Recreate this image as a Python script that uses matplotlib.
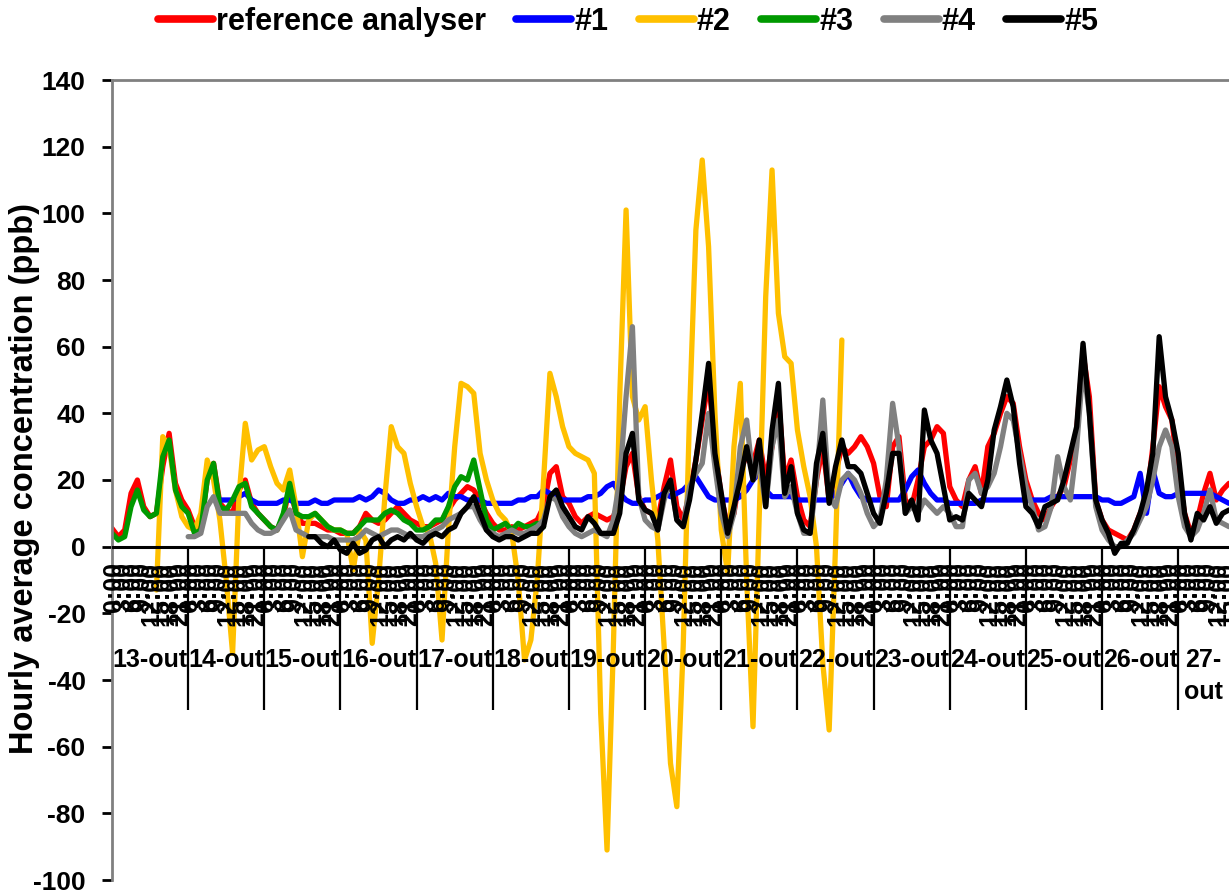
import numpy as np
import matplotlib
matplotlib.use("Agg")
import matplotlib.pyplot as plt

plt.rcParams['font.family'] = ['Liberation Sans', 'DejaVu Sans']
plt.rcParams['font.weight'] = 'bold'
plt.rcParams['axes.unicode_minus'] = False

nan = np.nan

# readings every 2 hours, starting 13-out 0:00
hours = np.arange(0, 353, 2)

day_labels = ['13-out', '14-out', '15-out', '16-out', '17-out', '18-out', '19-out',
              '20-out', '21-out', '22-out', '23-out', '24-out', '25-out', '26-out', '27-\nout']
hour_labels = ['0:00', '3:00', '6:00', '9:00', '12:00', '15:00', '18:00', '21:00']

reference = [
    5.5, 3, 5, 16, 20, 12, 9, 10, 24, 34, 19, 14,      # 13
    11, 6, 6, 20, 25, 13, 11, 10, 17, 20, 13, 10,      # 14
    8, 6, 5, 9, 18, 10, 7, 7, 7, 6, 5, 5,              # 15
    4, 4, 4, 6, 10, 8, 7, 8, 10, 12, 10, 8,            # 16
    7, 6, 6, 7, 8, 11, 14, 16, 18, 17, 14, 10,         # 17
    7, 5, 5, 6, 5, 6, 7, 8, 12, 22, 24, 15,            # 18
    13, 9, 7, 9, 10, 9, 8, 9, 14, 24, 28, 15,          # 19
    11, 10, 8, 18, 26, 12, 8, 16, 26, 38, 50, 30,      # 20
    15, 6, 10, 22, 28, 25, 32, 20, 30, 45, 20, 26,     # 21
    15, 8, 6, 20, 30, 14, 22, 30, 28, 30, 33, 30,      # 22
    25, 15, 12, 30, 33, 14, 12, 20, 30, 32, 36, 34,    # 23
    18, 14, 12, 20, 24, 16, 30, 34, 40, 45, 43, 30,    # 24
    20, 14, 10, 8, 12, 15, 18, 26, 35, 58, 45, 14,     # 25
    8, 5, 4, 3, 2, 5, 10, 14, 30, 48, 42, 38,          # 26
    22, 10, 4, 8, 16, 22, 14, 17, 19,                  # 27
]

sensor1 = [
    nan, nan, nan, nan, nan, nan, nan, nan, nan, nan, nan, nan,
    nan, nan, nan, nan, 14.5, 14, 14, 14, 15, 16, 14, 13,
    13, 13, 13, 14, 14, 13, 13, 13, 14, 13, 13, 14,
    14, 14, 14, 15, 14, 15, 17, 16, 14, 13, 13, 14,
    14, 15, 14, 15, 14, 16, 15, 15, 14, 14, 14, 13,
    13, 13, 13, 13, 14, 14, 15, 15, 17, 16, 15, 14,
    14, 14, 14, 15, 15, 16, 18, 19, 16, 14, 13, 13,
    14, 14, 15, 16, 15, 16, 17, 19, 21, 18, 15, 14,
    14, 14, 14, 15, 17, 20, 22, 17, 15, 15, 15, 15,
    14, 14, 14, 14, 14, 14, 16, 19, 22, 18, 15, 14,
    14, 14, 14, 14, 14, 17, 21, 23, 19, 16, 14, 14,
    13, 13, 13, 13, 13, 14, 14, 14, 14, 14, 14, 14,
    14, 14, 14, 14, 15, 15, 15, 15, 15, 15, 15, 15,
    14, 14, 13, 13, 14, 15, 22, 10, 23, 16, 15, 15,
    16, 16, 16, 16, 16, 16, 15, 14, 13,
]

sensor2 = [
    nan, nan, nan, nan, nan, nan, nan, -13, 33, 30, 17, 9,
    6, 5, 10, 26, 20, 8, -10, -32, 15, 37, 26, 29,
    30, 24, 19, 17, 23, 12, -3, 8, 10, 8, 6, 5,
    5, 4, -7, 5, 2, -29, -10, 15, 36, 30, 28, 19,
    12, 6, 4, -5, -28, 5, 30, 49, 48, 46, 28, 20,
    14, 10, 8, 4, -10, -34, -28, -10, 20, 52, 45, 36,
    30, 28, 27, 26, 22, -50, -91, -30, 45, 101, 45, 38,
    42, 20, 2, -30, -65, -78, -30, 40, 95, 116, 90, 40,
    5, -8, 30, 49, -10, -54, 10, 75, 113, 70, 57, 55,
    35, 24, 15, 0, -35, -55, 0, 62, nan, nan, nan, nan,
    nan, nan, nan, nan, nan, nan, nan, nan, nan, nan, nan, nan,
    nan, nan, nan, nan, nan, nan, nan, nan, nan, nan, nan, nan,
    nan, nan, nan, nan, nan, nan, nan, nan, nan, nan, nan, nan,
    nan, nan, nan, nan, nan, nan, nan, nan, nan, nan, nan, nan,
    nan, nan, nan, nan, nan, nan, nan, nan, nan,
]

sensor3 = [
    4, 2, 3, 12, 17, 11, 9, 10, 27, 32, 17, 12,
    10, 4, 5, 20, 25, 12, 11, 14, 18, 19, 12, 10,
    8, 6, 5, 10, 19, 10, 9, 9, 10, 8, 6, 5,
    5, 4, 4, 6, 8, 8, 8, 10, 11, 10, 8, 7,
    5, 5, 6, 8, 8, 12, 18, 21, 20, 26, 17, 8,
    5, 6, 7, 5, 7, 6, 6, 7, 6, nan, nan, nan,
] + [nan] * 105

sensor4 = [
    nan, nan, nan, nan, nan, nan, nan, nan, nan, nan, nan, nan,
    3, 3, 4, 12, 15, 10, 10, 10, 10, 10, 7, 5,
    4, 4, 5, 8, 11, 5, 4, 3, 3, 3, 3, 2,
    2, 2, 2, 3, 5, 4, 3, 4, 5, 5, 4, 3,
    3, 3, 4, 5, 6, 8, 9, 10, 12, 12, 8, 5,
    4, 3, 4, 5, 4, 4, 5, 6, 8, 15, 14, 9,
    6, 4, 3, 4, 5, 4, 3, 8, 20, 45, 66, 15,
    8, 6, 5, 14, 20, 8, 6, 18, 22, 25, 40, 24,
    10, 3, 10, 30, 38, 20, 25, 12, 30, 38, 15, 18,
    10, 4, 4, 20, 44, 15, 12, 20, 22, 20, 16, 10,
    6, 8, 20, 43, 30, 10, 12, 10, 14, 12, 10, 12,
    10, 6, 6, 20, 22, 16, 18, 22, 30, 40, 38, 28,
    18, 12, 5, 6, 12, 27, 18, 14, 30, 54, 40, 12,
    5, 2, 0, 0, 2, 4, 8, 12, 20, 30, 35, 30,
    15, 6, 3, 5, 10, 17, 8, 7, 6,
]

sensor5 = [
    nan, nan, nan, nan, nan, nan, nan, nan, nan, nan, nan, nan,
    nan, nan, nan, nan, nan, nan, nan, nan, nan, nan, nan, nan,
    nan, nan, nan, nan, nan, nan, nan, 3, 3, 1, 0, 2,
    -1, -2, 1, -2, -1, 2, 3, 0, 2, 3, 2, 4,
    2, 1, 3, 4, 3, 5, 6, 10, 12, 15, 10, 5,
    3, 2, 3, 3, 2, 3, 4, 4, 6, 15, 17, 12,
    9, 6, 5, 9, 7, 4, 4, 4, 10, 28, 34, 14,
    11, 10, 5, 16, 20, 8, 6, 14, 26, 40, 55, 28,
    16, 4, 12, 20, 30, 20, 32, 12, 35, 49, 16, 24,
    10, 5, 4, 25, 34, 13, 24, 32, 24, 24, 22, 16,
    10, 7, 16, 28, 28, 10, 14, 8, 41, 32, 28, 18,
    8, 9, 8, 16, 14, 12, 20, 35, 42, 50, 42, 25,
    12, 10, 6, 12, 13, 14, 20, 28, 36, 61, 40, 14,
    8, 4, -2, 1, 1, 5, 10, 17, 28, 63, 45, 38,
    28, 10, 2, 10, 8, 12, 7, 10, 11,
]

series = [
    ('reference analyser', reference, '#ff0000'),
    ('#1', sensor1, '#0000ff'),
    ('#2', sensor2, '#ffc000'),
    ('#3', sensor3, '#009900'),
    ('#4', sensor4, '#808080'),
    ('#5', sensor5, '#000000'),
]

fig = plt.figure(figsize=(12.29, 8.91), dpi=100)
ax = fig.add_axes([112 / 1229, 11 / 891, 1117 / 1229, 800 / 891])

for name, vals, col in series:
    ax.plot(hours, vals, color=col, lw=3.8, label=name,
            solid_joinstyle='round', solid_capstyle='round')

xmax = hours[-1]
ax.set_xlim(0, xmax)
ax.set_ylim(-100, 140)
ax.set_yticks(np.arange(-100, 141, 20))
ax.tick_params(axis='y', direction='out', length=7, width=2, color='black',
               labelsize=19, pad=12)
ax.set_xticks([])

for s in ['right', 'bottom']:
    ax.spines[s].set_visible(False)
for s in ['left', 'top']:
    ax.spines[s].set_color('#808080')
    ax.spines[s].set_linewidth(2)

# category axis drawn at zero, day separators hang below it
ax.axhline(0, color='black', lw=2.2, zorder=5)
n_days = len(day_labels)
ax.vlines([24 * d for d in range(1, n_days)], -49, 0, color='black', lw=1.6,
          zorder=5, clip_on=False)

for d in range(n_days):
    for k, lab in enumerate(hour_labels):
        h = 24 * d + 3 * k
        if h > xmax:
            continue
        ax.text(h + 0.5, -4.6, lab, rotation=90, ha='center', va='top',
                fontsize=18, fontweight='bold')
    center = (24 * d + min(24 * (d + 1), xmax)) / 2
    ax.text(center, -30.5, day_labels[d], ha='center', va='top',
            fontsize=18, fontweight='bold', linespacing=1.4)

fig.text(25 / 1229, 1 - 478 / 891, 'Hourly average concentration (ppb)',
         rotation=90, ha='center', va='center', fontsize=23.5, fontweight='bold')

leg = fig.legend(loc='center', bbox_to_anchor=(0.511, 1 - 22 / 891), ncol=6,
                 frameon=False, fontsize=22, handlelength=1.8, handletextpad=0.1,
                 columnspacing=1.0)
for line in leg.get_lines():
    line.set_linewidth(5.5)

fig.savefig('out.png', dpi=100)
